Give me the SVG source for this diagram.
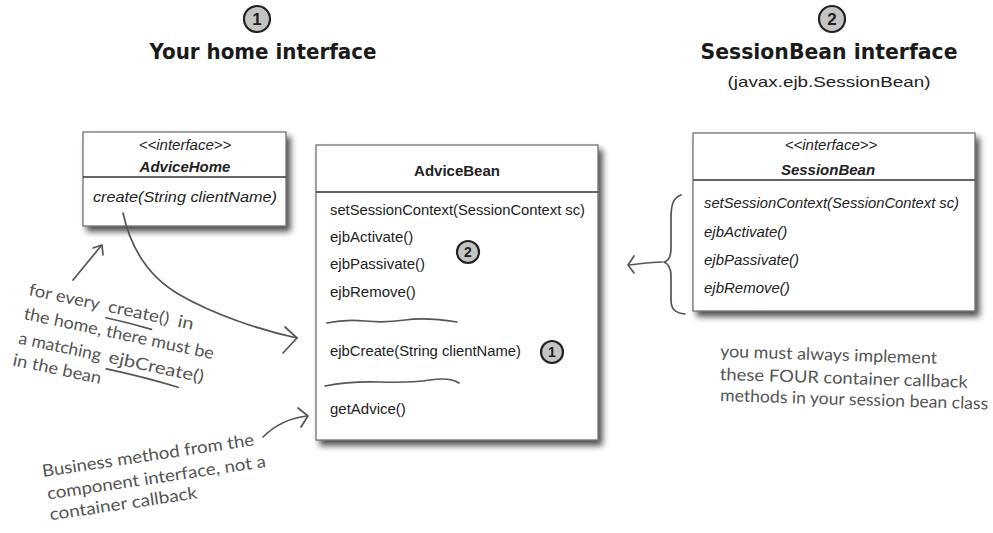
<svg xmlns="http://www.w3.org/2000/svg" width="993" height="533" viewBox="0 0 993 533">
<defs>
<filter id="shadow" x="-10%" y="-10%" width="130%" height="135%">
<feGaussianBlur in="SourceAlpha" stdDeviation="3"/>
<feOffset dx="4" dy="5" result="b"/>
<feComponentTransfer><feFuncA type="linear" slope="0.7"/></feComponentTransfer>
<feMerge><feMergeNode/><feMergeNode in="SourceGraphic"/></feMerge>
</filter>
</defs>
<style>
.box{fill:#fff;stroke:#666;stroke-width:1.2}
.div{stroke:#333;stroke-width:1.3}
.t{font-family:"Liberation Sans",Arial,sans-serif;font-size:15px;fill:#222}
.it{font-style:italic}
.b{font-weight:bold}
.num{fill:#c4c4c4;stroke:#222;stroke-width:2.2}
.numt{font-family:"Liberation Sans",Arial,sans-serif;font-weight:bold;fill:#222;text-anchor:middle}
.head{font-family:"DejaVu Sans","Liberation Sans",sans-serif;font-weight:bold;font-size:21px;fill:#1a1a1a;text-anchor:middle}
.hand{font-family:"Lato","Noto Sans",sans-serif;font-size:17px;fill:#555}
.pen{fill:none;stroke:#555;stroke-width:1.7;stroke-linecap:round;stroke-linejoin:round}
</style>
<rect width="993" height="533" fill="#fff"/>

<g id="header1">
<circle class="num" cx="257" cy="19" r="13"/>
<text class="numt" x="257" y="25" font-size="17">1</text>
<text class="head" x="263" y="59" textLength="227" lengthAdjust="spacingAndGlyphs">Your home interface</text>
</g>

<g id="header2">
<circle class="num" cx="832" cy="19" r="13"/>
<text class="numt" x="832" y="25" font-size="17">2</text>
<text class="head" x="829" y="59" textLength="257" lengthAdjust="spacingAndGlyphs">SessionBean interface</text>
<text class="t" x="829" y="87" font-size="17" text-anchor="middle" textLength="203" lengthAdjust="spacingAndGlyphs">(javax.ejb.SessionBean)</text>
</g>

<g id="AdviceHome">
<rect class="box" x="83" y="132" width="203" height="94" filter="url(#shadow)"/>
<line class="div" x1="83" y1="177" x2="286" y2="177"/>
<text class="t it" x="185" y="150" font-size="14" text-anchor="middle">&lt;&lt;interface&gt;&gt;</text>
<text class="t it b" x="185" y="172" font-size="14.5" text-anchor="middle">AdviceHome</text>
<text class="t it" x="93" y="202" font-size="16" textLength="184" lengthAdjust="spacingAndGlyphs">create(String clientName)</text>
</g>

<g id="AdviceBean">
<rect class="box" x="316" y="145" width="282" height="295" filter="url(#shadow)"/>
<line class="div" x1="316" y1="192" x2="598" y2="192"/>
<text class="t b" x="457" y="176" text-anchor="middle">AdviceBean</text>
<text class="t" x="330" y="215" textLength="255" lengthAdjust="spacingAndGlyphs">setSessionContext(SessionContext sc)</text>
<text class="t" x="330" y="242">ejbActivate()</text>
<text class="t" x="330" y="269">ejbPassivate()</text>
<text class="t" x="330" y="297">ejbRemove()</text>
<path class="pen" d="M327,323 Q345,319 365,321 T405,320 T457,322" stroke="#333" stroke-width="1.4"/>
<text class="t" x="330" y="356" textLength="191" lengthAdjust="spacingAndGlyphs">ejbCreate(String clientName)</text>
<path class="pen" d="M325,386 Q350,381 380,382 T430,380 T459,383" stroke="#333" stroke-width="1.4"/>
<text class="t" x="330" y="414" fill="#777">getAdvice()</text>
<circle class="num" cx="468" cy="252" r="11" stroke-width="1.8"/>
<text class="numt" x="468" y="257" font-size="14">2</text>
<circle class="num" cx="552" cy="352" r="11" stroke-width="1.8"/>
<text class="numt" x="552" y="357" font-size="14">1</text>
</g>

<g id="SessionBean">
<rect class="box" x="693" y="133" width="282" height="178" filter="url(#shadow)"/>
<line class="div" x1="693" y1="180" x2="975" y2="180"/>
<text class="t it" x="831" y="150" font-size="14" text-anchor="middle">&lt;&lt;interface&gt;&gt;</text>
<text class="t it b" x="828" y="175" text-anchor="middle">SessionBean</text>
<text class="t it" x="704" y="208" textLength="255" lengthAdjust="spacingAndGlyphs">setSessionContext(SessionContext sc)</text>
<text class="t it" x="704" y="237">ejbActivate()</text>
<text class="t it" x="704" y="265">ejbPassivate()</text>
<text class="t it" x="704" y="293">ejbRemove()</text>
</g>

<g id="connectors">
<path class="pen" d="M123,213 C130,245 145,275 180,295 C215,315 260,330 297,338"/>
<path class="pen" d="M285,327 L297,338 L283,353"/>
<path class="pen" d="M73,280 L101,246"/>
<path class="pen" d="M93,248 L102,245 L103,255"/>
<path class="pen" d="M263,437 C275,425 290,418 307,416"/>
<path class="pen" d="M298,408 L308,416 L301,427"/>
<path class="pen" d="M681,195 C673,198 671,205 671,218 L671,248 C671,257 669,261 664,262 C669,264 671,268 671,276 L671,300 C671,309 675,313 685,314"/>
<path class="pen" d="M662,262 C650,262 640,264 629,265"/>
<path class="pen" d="M634,256 L628,265 L634,273"/>
</g>

<g id="note-create">
<g transform="translate(28,295) rotate(12)">
<text class="hand" y="0"><tspan x="0" textLength="72" lengthAdjust="spacingAndGlyphs">for every</tspan><tspan x="81" textLength="62" lengthAdjust="spacingAndGlyphs">create()</tspan><tspan x="152" textLength="16" lengthAdjust="spacingAndGlyphs">in</tspan></text>
<text class="hand" x="0" y="24.5" textLength="194" lengthAdjust="spacingAndGlyphs">the home, there must be</text>
<text class="hand" y="49.5"><tspan x="0" textLength="84" lengthAdjust="spacingAndGlyphs">a matching</tspan><tspan x="92" textLength="97" lengthAdjust="spacingAndGlyphs">ejbCreate()</tspan></text>
<text class="hand" x="-1" y="72" textLength="90" lengthAdjust="spacingAndGlyphs">in the bean</text>
<path class="pen" d="M81,6 Q105,6 128,8"/>
<path class="pen" d="M92,56 Q130,56 166,59"/>
</g>
</g>

<g id="note-business">
<g transform="translate(43,477) rotate(-8.5)">
<text class="hand" x="0" y="0" textLength="214" lengthAdjust="spacingAndGlyphs">Business method from the</text>
<text class="hand" x="1.5" y="23" textLength="221" lengthAdjust="spacingAndGlyphs">component interface, not a</text>
<text class="hand" x="1" y="44" textLength="149" lengthAdjust="spacingAndGlyphs">container callback</text>
</g>
</g>

<g id="note-callbacks">
<g transform="translate(720,357) rotate(1.8)">
<text class="hand" x="0" y="0" textLength="217" lengthAdjust="spacingAndGlyphs">you must always implement</text>
<text class="hand" x="0.5" y="23" textLength="248" lengthAdjust="spacingAndGlyphs">these FOUR container callback</text>
<text class="hand" x="1.5" y="44" textLength="268" lengthAdjust="spacingAndGlyphs">methods in your session bean class</text>
</g>
</g>
</svg>
